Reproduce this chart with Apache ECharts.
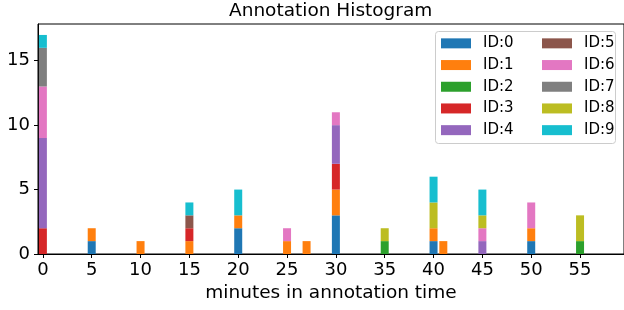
<!DOCTYPE html>
<html>
<head>
<meta charset="utf-8">
<script src="https://cdn.jsdelivr.net/npm/echarts@6/dist/echarts.min.js"></script>
<style>
html, body { margin: 0; padding: 0; background: #fff; }
#main { width: 624px; height: 310px; }
</style>
</head>
<body>
<div id="main"></div>
<script>
// minutes where a bar shows up
var minutes = [0, 5, 10, 15, 20, 25, 27, 30, 35, 40, 41, 45, 50, 55];
// counts per annotator id, same order as minutes
var id0 = [0, 1, 0, 0, 2, 0, 0, 3, 0, 1, 0, 0, 1, 0];
var id1 = [0, 1, 1, 1, 1, 1, 1, 2, 0, 1, 1, 0, 1, 0];
var id2 = [0, 0, 0, 0, 0, 0, 0, 0, 1, 0, 0, 0, 0, 1];
var id3 = [2, 0, 0, 1, 0, 0, 0, 2, 0, 0, 0, 0, 0, 0];
var id4 = [7, 0, 0, 0, 0, 0, 0, 3, 0, 0, 0, 1, 0, 0];
var id5 = [0, 0, 0, 1, 0, 0, 0, 0, 0, 0, 0, 0, 0, 0];
var id6 = [4, 0, 0, 0, 0, 1, 0, 1, 0, 0, 0, 1, 2, 0];
var id7 = [3, 0, 0, 0, 0, 0, 0, 0, 0, 0, 0, 0, 0, 0];
var id8 = [0, 0, 0, 0, 0, 0, 0, 0, 1, 2, 0, 1, 0, 2];
var id9 = [1, 0, 0, 1, 2, 0, 0, 0, 0, 2, 0, 2, 0, 0];
var names = ['ID:0', 'ID:1', 'ID:2', 'ID:3', 'ID:4', 'ID:5', 'ID:6', 'ID:7', 'ID:8', 'ID:9'];
var yTicks = [0, 5, 10, 15];

var colors = ['#1f77b4', '#ff7f0e', '#2ca02c', '#d62728', '#9467bd',
              '#8c564b', '#e377c2', '#7f7f7f', '#bcbd22', '#17becf'];
var font = 'DejaVu Sans';
var counts = [id0, id1, id2, id3, id4, id5, id6, id7, id8, id9];

// one category per minute bin, 0..59
var bins = [];
for (var m = 0; m < 60; m++) bins.push(String(m));

var series = [];
for (var i = 0; i < names.length; i++) {
    var d = [];
    for (var b = 0; b < bins.length; b++) d.push(0);
    for (var j = 0; j < minutes.length; j++) {
        d[minutes[j]] = counts[i][j];
    }
    series.push({
        name: names[i],
        type: 'bar',
        stack: 'total',
        barWidth: 8,
        itemStyle: { color: colors[i] },
        data: d
    });
}

var legendText = { fontFamily: font, fontSize: 15, color: '#000', lineHeight: 21.7, padding: [0, 0, 0, 7] };

var myChart = echarts.init(document.getElementById('main'));
var option = {
    animation: false,
    color: colors,
    title: {
        text: 'Annotation Histogram',
        left: 224,
        top: -3,
        textStyle: { fontFamily: font, fontSize: 18.5, fontWeight: 'normal', color: '#000' }
    },
    graphic: [{
        type: 'rect',
        shape: { x: 435.5, y: 31.5, width: 180, height: 112, r: 3 },
        style: { fill: 'rgba(255,255,255,0.8)', stroke: '#cccccc', lineWidth: 1 },
        z: 5
    }],
    legend: [{
        data: names.slice(0, 5),
        orient: 'vertical',
        left: 441,
        top: 32.5,
        padding: 0,
        itemGap: 0,
        itemWidth: 30,
        itemHeight: 10,
        icon: 'rect',
        itemStyle: { borderWidth: 0 },
        textStyle: legendText,
        z: 10
    }, {
        data: names.slice(5),
        orient: 'vertical',
        left: 542,
        top: 32.5,
        padding: 0,
        itemGap: 0,
        itemWidth: 30,
        itemHeight: 10,
        icon: 'rect',
        itemStyle: { borderWidth: 0 },
        textStyle: legendText,
        z: 10
    }],
    grid: {
        left: 38,
        top: 24,
        right: -1,
        bottom: 56,
        show: true,
        borderColor: '#000',
        borderWidth: 1
    },
    xAxis: {
        type: 'category',
        data: bins,
        boundaryGap: true,
        name: 'minutes in annotation time',
        nameLocation: 'middle',
        nameGap: 30,
        nameTextStyle: { fontFamily: font, fontSize: 18.5, color: '#000' },
        splitLine: { show: false },
        axisLine: { lineStyle: { color: '#000', width: 1 } },
        axisTick: { show: true, length: 4, interval: 4, alignWithLabel: true, lineStyle: { color: '#000' } },
        axisLabel: { interval: 4, margin: 7, fontFamily: font, fontSize: 18, color: '#000' }
    },
    yAxis: {
        type: 'value',
        min: 0,
        max: 17.85,
        splitLine: { show: false },
        axisLine: { show: true, onZero: false, lineStyle: { color: '#000', width: 1 } },
        axisTick: { show: true, length: 4, customValues: yTicks, lineStyle: { color: '#000' } },
        axisLabel: { customValues: yTicks, margin: 8, fontFamily: font, fontSize: 18, color: '#000' }
    },
    series: series
};

myChart.setOption(option);
</script>
</body>
</html>
